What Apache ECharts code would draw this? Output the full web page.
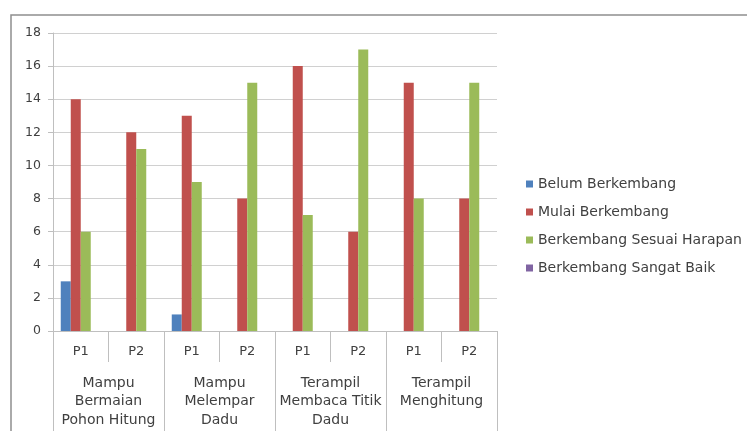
<!DOCTYPE html>
<html>
<head>
<meta charset="utf-8">
<script src="https://cdn.jsdelivr.net/npm/echarts@6/dist/echarts.min.js"></script>
<style>
  html, body { margin: 0; padding: 0; background: #fff; }
  #chart { width: 747px; height: 431px; }
</style>
</head>
<body>
<div id="chart"></div>
<script>
// Sessions within each skill
const sessions = ['P1', 'P2', 'P1', 'P2', 'P1', 'P2', 'P1', 'P2'];
// Skill groups (two sessions each)
const groups = [
  'Mampu\nBermaian\nPohon Hitung',
  'Mampu\nMelempar\nDadu',
  'Terampil\nMembaca Titik\nDadu',
  'Terampil\nMenghitung'
];
const seriesNames = [
  'Belum Berkembang',
  'Mulai Berkembang',
  'Berkembang Sesuai Harapan',
  'Berkembang Sangat Baik'
];
const belumBerkembang   = [3, 0, 1, 0, 0, 0, 0, 0];
const mulaiBerkembang   = [14, 12, 13, 8, 16, 6, 15, 8];
const sesuaiHarapan     = [6, 11, 9, 15, 7, 17, 8, 15];
const sangatBaik        = [0, 0, 0, 0, 0, 0, 0, 0];
const yTicks = { min: 0, max: 18, interval: 2 };

const colors = ['#4F81BD', '#C0504D', '#9BBB59', '#8064A2'];
const values = [belumBerkembang, mulaiBerkembang, sesuaiHarapan, sangatBaik];
const font = 'DejaVu Sans';

const chart = echarts.init(document.getElementById('chart'), null, { renderer: 'canvas' });
chart.setOption({
  animation: false,
  backgroundColor: '#ffffff',
  color: colors,
  graphic: [{
    type: 'rect',
    shape: { x: 11, y: 15, width: 900, height: 600 },
    style: { fill: 'none', stroke: '#8f8f8f', lineWidth: 1.5 },
    silent: true
  }],
  grid: { left: 53, top: 33, right: 250, bottom: 100, containLabel: false },
  legend: {
    orient: 'vertical',
    left: 521,
    top: 172,
    itemWidth: 7,
    itemHeight: 7,
    itemGap: 14,
    icon: 'rect',
    textStyle: { fontFamily: font, fontSize: 14, color: '#404040', padding: [0, 0, 0, 0] },
    data: seriesNames
  },
  xAxis: [{
    type: 'category',
    data: sessions,
    position: 'bottom',
    axisLine: { show: true, lineStyle: { color: '#bfbfbf' } },
    axisTick: { show: true, length: 31, interval: 0, lineStyle: { color: '#bfbfbf' } },
    axisLabel: { interval: 0, margin: 14, fontFamily: font, fontSize: 13, color: '#404040' },
    splitLine: { show: false }
  }, {
    type: 'category',
    data: groups,
    position: 'bottom',
    axisLine: { show: false },
    axisTick: { show: true, length: 120, interval: 0, lineStyle: { color: '#bfbfbf' } },
    axisLabel: { interval: 0, margin: 43, lineHeight: 18.5, fontFamily: font, fontSize: 14, color: '#404040' },
    splitLine: { show: false }
  }],
  yAxis: {
    type: 'value',
    min: yTicks.min,
    max: yTicks.max,
    interval: yTicks.interval,
    axisLine: { show: true, lineStyle: { color: '#bfbfbf' } },
    axisTick: { show: true, length: 5, lineStyle: { color: '#bfbfbf' } },
    axisLabel: { margin: 12, fontFamily: font, fontSize: 12.5, color: '#404040' },
    splitLine: { show: true, lineStyle: { color: '#d0d0d0' } }
  },
  series: seriesNames.map((name, i) => ({
    name: name,
    type: 'bar',
    xAxisIndex: 0,
    data: values[i],
    barWidth: 10,
    barGap: '0%',
    itemStyle: { color: colors[i] }
  }))
});
</script>
</body>
</html>
